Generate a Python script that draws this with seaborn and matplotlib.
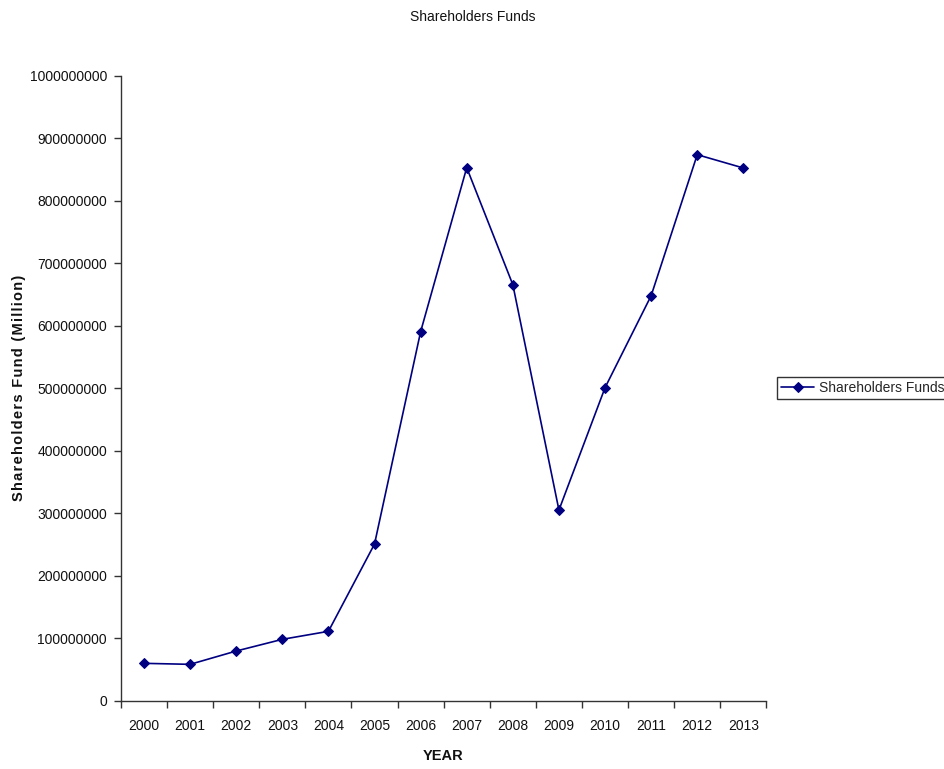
import matplotlib
matplotlib.use("Agg")
import matplotlib.pyplot as plt
from matplotlib.ticker import FuncFormatter, FixedLocator, NullFormatter
import numpy as np
import pandas as pd
import seaborn as sns

years = ["2000", "2001", "2002", "2003", "2004", "2005", "2006",
         "2007", "2008", "2009", "2010", "2011", "2012", "2013"]
funds = [59.8e6, 58.2e6, 79.5e6, 98.2e6, 111e6, 250.7e6, 590.4e6,
         852.8e6, 665.6e6, 305e6, 500.8e6, 648e6, 873.6e6, 852.3e6]
y_ticks = [0, 100000000, 200000000, 300000000, 400000000, 500000000,
           600000000, 700000000, 800000000, 900000000, 1000000000]

sns.set_theme(style="white")
plt.rcParams["font.family"] = ["Liberation Sans", "DejaVu Sans"]

df = pd.DataFrame({"pos": np.arange(len(years)), "value": funds})

fig = plt.figure(figsize=(9.45, 7.69), dpi=100)
ax = fig.add_axes([0.128, 0.0888, 0.683, 0.8128])

sns.lineplot(data=df, x="pos", y="value", ax=ax, color="#000080",
             marker="D", markersize=5.5, markeredgecolor="#000080",
             linewidth=1.2, label="Shareholders Funds")

ax.set_xlim(-0.5, len(years) - 0.5)
ax.set_ylim(0, 1e9)

# category ticks sit on the boundaries, labels at the centres
ax.xaxis.set_major_locator(FixedLocator(np.arange(len(years) + 1) - 0.5))
ax.xaxis.set_major_formatter(NullFormatter())
ax.xaxis.set_minor_locator(FixedLocator(np.arange(len(years))))
ax.set_xticklabels(years, minor=True)
ax.tick_params(axis="x", which="major", direction="out", length=5, width=1,
               color="#333333", bottom=True)
ax.tick_params(axis="x", which="minor", length=0, pad=13, labelsize=10,
               labelcolor="#111111")

ax.set_yticks(y_ticks)
ax.yaxis.set_major_formatter(FuncFormatter(lambda v, p: f"{int(round(v))}"))
ax.tick_params(axis="y", direction="out", length=5, width=1, color="#333333",
               left=True, labelsize=10, labelcolor="#111111", pad=5)

for side in ("top", "right"):
    ax.spines[side].set_visible(False)
for side in ("left", "bottom"):
    ax.spines[side].set_color("#333333")
    ax.spines[side].set_linewidth(1)

ax.set_xlabel("")
ax.set_ylabel("")
fig.text(443 / 945, 1 - 756 / 769, "YEAR", fontsize=10.5, fontweight="bold",
         ha="center", va="center", color="#111111")

# letter-spaced vertical axis title
ylab = "\u200a".join("Shareholders Fund (Million)")
fig.text(19 / 945, 1 - 388 / 769, ylab, rotation=90, fontsize=10.5,
         fontweight="bold", ha="center", va="center", color="#111111")

fig.text(0.5, 1 - 17 / 769, "Shareholders Funds", fontsize=10,
         ha="center", va="center", color="#111111")

leg = ax.legend(loc="center left", bbox_to_anchor=(777 / 945, 1 - 388 / 769),
                bbox_transform=fig.transFigure, frameon=True, fancybox=False,
                fontsize=10, handlelength=2.4, borderpad=0.3,
                handletextpad=0.3, borderaxespad=0)
leg.get_frame().set_edgecolor("#000000")
leg.get_frame().set_linewidth(1)

fig.savefig("out.png", dpi=100, facecolor="white")
